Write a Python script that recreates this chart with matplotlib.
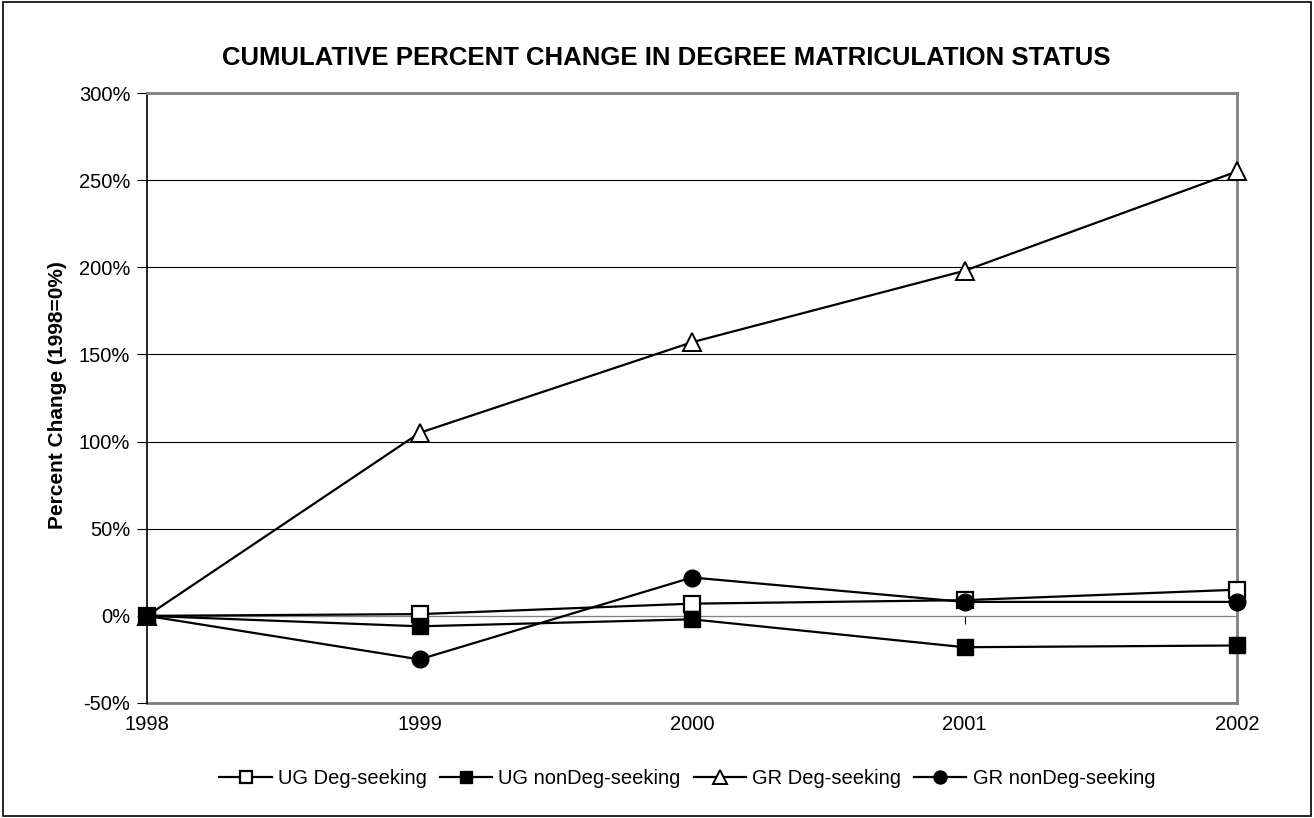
import numpy as np
import matplotlib
matplotlib.use('agg')
import matplotlib.pyplot as plt
from matplotlib.ticker import FuncFormatter, MultipleLocator

plt.rcParams['font.family'] = ['Liberation Sans', 'DejaVu Sans']

years = ['1998', '1999', '2000', '2001', '2002']
ug_deg = [0, 1, 7, 9, 15]
ug_nondeg = [0, -6, -2, -18, -17]
gr_deg = [0, 105, 157, 198, 255]
gr_nondeg = [0, -25, 22, 8, 8]

fig = plt.figure(figsize=(13.14, 8.18), dpi=100, facecolor='w')
ax = fig.add_axes([0.1119, 0.1406, 0.8295, 0.7457])

x = np.arange(len(years))
lw = 1.6
ms = 11
ax.plot(x, ug_deg, color='k', lw=lw, marker='s', ms=ms, mfc='w', mec='k', mew=1.6,
        label='UG Deg-seeking', zorder=4, clip_on=False)
ax.plot(x, gr_deg, color='k', lw=lw, marker='^', ms=ms + 2, mfc='w', mec='k', mew=1.4,
        label='GR Deg-seeking', zorder=4, clip_on=False)
ax.plot(x, gr_nondeg, color='k', lw=lw, marker='o', ms=ms + 1, mfc='k', mec='k',
        label='GR nonDeg-seeking', zorder=4, clip_on=False)
ax.plot(x, ug_nondeg, color='k', lw=lw, marker='s', ms=ms, mfc='k', mec='k',
        label='UG nonDeg-seeking', zorder=4, clip_on=False)

ax.set_xlim(0, len(years) - 1)
ax.set_ylim(-50, 300)
ax.yaxis.set_major_locator(MultipleLocator(50))
ax.yaxis.set_major_formatter(FuncFormatter(lambda v, p: f'{v:.0f}%'))
ax.grid(axis='y', color='k', lw=0.8)
ax.set_axisbelow(True)

# category axis crosses at 0%, labels stay at the bottom
ax.spines['bottom'].set_position(('data', 0))
ax.spines['bottom'].set_color('#808080')
ax.set_xticks(x)
ax.tick_params(axis='x', direction='out', length=6, color='k', labelbottom=False)
sec = ax.secondary_xaxis(0.0)
sec.set_xticks(x)
sec.set_xticklabels(years)
sec.tick_params(length=0, labelsize=14.5, pad=9)
sec.spines['bottom'].set_color('#808080')
sec.spines['bottom'].set_linewidth(2)

for s in ['top', 'right']:
    ax.spines[s].set_color('#808080')
    ax.spines[s].set_linewidth(2)
ax.spines['left'].set_color('k')
ax.spines['left'].set_linewidth(1.2)
ax.tick_params(axis='y', direction='out', length=7, labelsize=14.5, pad=5)

ax.set_ylabel('Percent Change (1998=0%)', fontsize=15, fontweight='bold')
ax.yaxis.set_label_coords(-0.073, 0.505)
fig.text(0.507, 0.929, 'CUMULATIVE PERCENT CHANGE IN DEGREE MATRICULATION STATUS',
         ha='center', va='center', fontsize=18.5, fontweight='bold')

handles, labels = ax.get_legend_handles_labels()
order = [0, 3, 1, 2]
fig.legend([handles[i] for i in order], [labels[i] for i in order],
           loc='center', bbox_to_anchor=(0.523, 0.048), ncol=4, frameon=False,
           fontsize=14.5, handlelength=2.6, handletextpad=0.3, columnspacing=0.65,
           markerscale=0.78)

fig.patches.append(plt.Rectangle((0.002, 0.002), 0.996, 0.996, transform=fig.transFigure,
                                 fill=False, ec='k', lw=1.2))

plt.savefig('out.png', dpi=100)
